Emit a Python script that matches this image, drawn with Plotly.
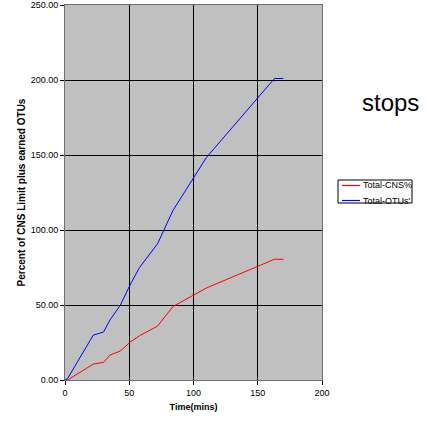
import plotly.graph_objects as go

time_mins = [0, 2, 22, 30, 35, 43, 51, 58, 72, 84, 110, 163, 170]
total_cns = [0, 0, 10.6, 11.8, 16.6, 19.3, 25.4, 29.5, 35.9, 49.0, 61.3, 80.5, 80.5]
total_otus = [0, 1, 29.9, 32.0, 40.0, 49.8, 64.0, 75.0, 90.8, 113.0, 148.3, 201.0, 201.0]
series_names = ["Total-CNS%", "Total-OTUs'"]
series_colors = ["#FF0000", "#0000FF"]

W, H = 429, 421
L, R, T, B = 65, 322, 5, 380  # plot area in pixels


def px(xp):
    return (xp - L) / (R - L)


def py(yp):
    return (B - yp) / (B - T)


fig = go.Figure()
for name, vals, col in zip(series_names, [total_cns, total_otus], series_colors):
    fig.add_trace(go.Scatter(x=time_mins, y=vals, mode="lines", name=name,
                             line=dict(color=col, width=1)))

FONT = "Liberation Sans, Arial, sans-serif"
shapes = []
annotations = []
# legend box (manual)
shapes.append(dict(type="rect", xref="paper", yref="paper",
                   x0=px(338), x1=px(412), y0=py(203), y1=py(180),
                   line=dict(color="black", width=1), fillcolor="white", layer="above"))
for i, (name, col) in enumerate(zip(series_names, series_colors)):
    yy = 185.5 + i * 15
    shapes.append(dict(type="line", xref="paper", yref="paper",
                       x0=px(342), x1=px(360), y0=py(yy), y1=py(yy),
                       line=dict(color=col, width=1.2), layer="above"))
    annotations.append(dict(text=name, x=px(361), y=py(yy), xref="paper", yref="paper",
                            xanchor="left", yanchor="middle", showarrow=False,
                            font=dict(size=9, family=FONT, color="black")))
annotations.append(dict(text="stops", x=px(390), y=py(103), xref="paper", yref="paper",
                        xanchor="center", yanchor="middle", showarrow=False,
                        font=dict(size=24, family=FONT, color="black")))

fig.update_layout(
    width=W, height=H,
    margin=dict(l=L, r=W - R, t=T, b=H - B, autoexpand=False),
    paper_bgcolor="white", plot_bgcolor="#C0C0C0",
    font=dict(family=FONT, size=9, color="black"),
    showlegend=False,
    shapes=shapes,
    annotations=annotations,
)

fig.update_xaxes(range=[0, 200], dtick=50, showgrid=True, gridcolor="black", gridwidth=1,
                 zeroline=False, showline=True, linecolor="#707070", linewidth=1, mirror=True,
                 ticks="outside", ticklen=4, tickcolor="black", automargin=False,
                 title=dict(text="<b>Time(mins)</b>", font=dict(size=9), standoff=6))
fig.update_yaxes(range=[0, 250], dtick=50, tickformat=".2f", showgrid=True, gridcolor="black", gridwidth=1,
                 zeroline=False, showline=True, linecolor="#707070", linewidth=1, mirror=True,
                 ticks="outside", ticklen=4, tickcolor="black", automargin=False,
                 title=dict(text="<b>Percent of CNS Limit plus earned OTUs</b>", font=dict(size=10), standoff=3))

fig.write_html("out.html", config={"displayModeBar": False},
               post_script="document.body.style.margin='0';document.body.style.padding='0';")
